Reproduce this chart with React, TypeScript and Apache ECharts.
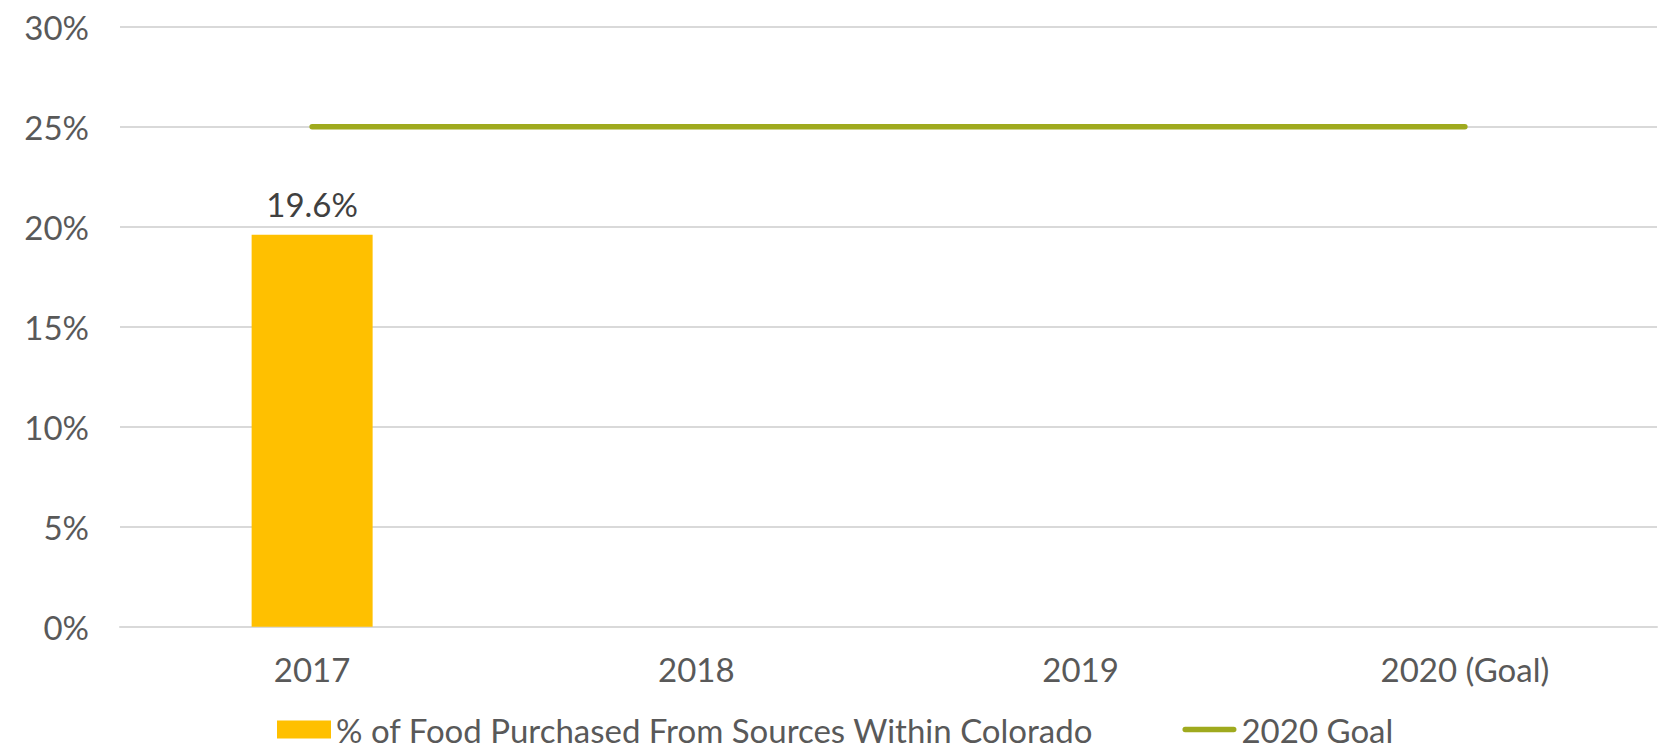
import React, { useEffect, useRef } from "react";
import * as echarts from "echarts";

const categories = ["2017", "2018", "2019", "2020 (Goal)"];
const purchasedValues: (number | null)[] = [19.6, null, null, null];
const goalValues = [25, 25, 25, 25];
const yTicks = { min: 0, max: 30, interval: 5 };
const barName = "% of Food Purchased From Sources Within Colorado";
const goalName = "2020 Goal";

export default function App() {
  const ref = useRef<HTMLDivElement>(null);
  useEffect(() => {
    document.body.style.margin = "0";
    const chart = echarts.init(ref.current!, undefined, { renderer: "svg" });
    const font = "Lato, 'DejaVu Sans', sans-serif";
    chart.setOption({
      animation: false,
      textStyle: { fontFamily: font },
      grid: { left: 120, right: 11, top: 26.7, bottom: 124.3, containLabel: false },
      legend: {
        top: 713,
        left: 277,
        padding: 0,
        itemGap: 89,
        itemWidth: 54,
        itemHeight: 18,
        textStyle: { fontSize: 33, lineHeight: 32, color: "#595959", fontFamily: font },
        data: [
          { name: barName, icon: "rect" },
          {
            name: goalName,
            icon: "path://M3,0 H57 A3,3 0 0 1 57,6 H3 A3,3 0 0 1 3,0 Z",
            itemStyle: { color: "#9FAA1E" },
          },
        ],
      },
      xAxis: {
        type: "category",
        data: categories,
        axisLine: { lineStyle: { color: "#d9d9d9", width: 2 } },
        axisTick: { show: false },
        axisLabel: { fontSize: 33, color: "#595959", margin: 26, fontFamily: font },
      },
      yAxis: {
        type: "value",
        min: yTicks.min,
        max: yTicks.max,
        interval: yTicks.interval,
        axisLine: { show: false },
        axisTick: { show: false },
        axisLabel: { fontSize: 33, color: "#595959", margin: 31, formatter: "{value}%", fontFamily: font },
        splitLine: { lineStyle: { color: "#d9d9d9", width: 2 } },
      },
      series: [
        {
          name: barName,
          type: "bar",
          data: purchasedValues,
          barWidth: 121,
          itemStyle: { color: "#FFC000" },
          label: {
            show: true,
            position: "top",
            distance: 14,
            fontSize: 33,
            color: "#404040",
            fontFamily: font,
            formatter: (p: any) => `${p.value}%`,
          },
        },
        {
          name: goalName,
          type: "line",
          data: goalValues,
          symbol: "none",
          lineStyle: { color: "#9FAA1E", width: 5.5, cap: "round" },
          itemStyle: { color: "#9FAA1E" },
        },
      ],
    });
    return () => chart.dispose();
  }, []);
  return <div ref={ref} style={{ width: 1668, height: 751 }} />;
}
